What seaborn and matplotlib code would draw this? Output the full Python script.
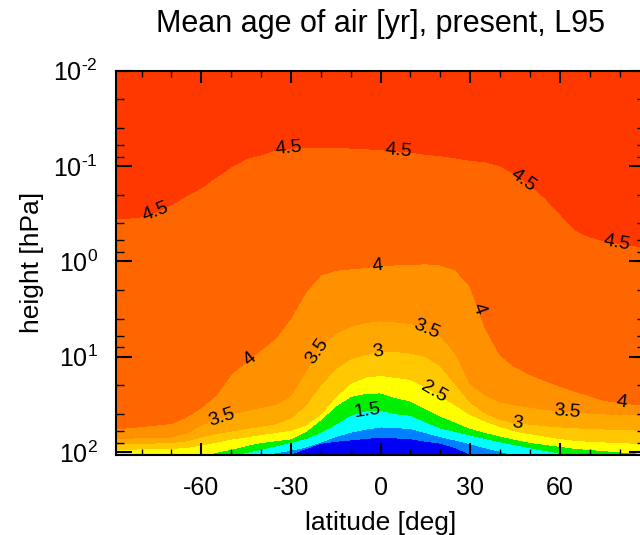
import numpy as np
import matplotlib
matplotlib.use("Agg")
import matplotlib.pyplot as plt
from matplotlib.ticker import (FixedLocator, MultipleLocator, LogLocator,
                               NullFormatter, FuncFormatter)
import seaborn as sns

# ---------------- data ----------------
TITLE = "Mean age of air [yr], present, L95"
XLABEL = "latitude [deg]"
YLABEL = "height [hPa]"

latitude = [-90, -85, -80, -75, -70, -65, -60, -55, -50, -45, -40, -35, -30,
            -25, -20, -15, -10, -5, 0, 5, 10, 15, 20, 25, 30, 35, 40, 45,
            50, 55, 60, 65, 70, 75, 80, 85, 90]

B = 115.0  # the contour lies below the plotted pressure range here

# pressure [hPa] of each age isoline at every latitude
p_age_4_5 = [0.362, 0.354, 0.341, 0.302, 0.255, 0.205, 0.169, 0.130, 0.102, 0.0839,
             0.0762, 0.0675, 0.0651, 0.0635, 0.0632, 0.0640, 0.0648, 0.0659, 0.0675,
             0.0692, 0.0717, 0.0752, 0.0781, 0.0819, 0.0870, 0.0902, 0.0994, 0.121,
             0.157, 0.215, 0.317, 0.467, 0.553, 0.609, 0.647, 0.688, 0.713]
p_age_4_0 = [56.7, 56.0, 54.0, 52.1, 50.2, 42.9, 34.1, 25.2, 15.2, 11.4,
             8.49, 6.36, 3.92, 2.09, 1.39, 1.24, 1.20, 1.16, 1.11,
             1.09, 1.08, 1.06, 1.09, 1.23, 1.83, 4.99, 9.58, 12.8,
             15.4, 17.8, 20.3, 22.9, 25.8, 28.8, 30.2, 31.7, 32.5]
p_age_3_5 = [72.2, 71.7, 70.9, 70.1, 69.6, 63.2, 52.1, 45.0, 40.4, 36.7,
             33.9, 31.7, 25.5, 14.1, 7.53, 5.70, 4.81, 4.37, 4.21,
             4.32, 4.48, 5.11, 6.06, 9.13, 19.3, 25.2, 29.9, 32.1,
             33.9, 35.8, 36.9, 38.0, 39.1, 39.9, 40.4, 40.9, 41.1]
p_age_3_0 = [83.0, 82.4, 81.4, 80.4, 79.5, 76.6, 69.6, 63.9, 60.2, 56.7,
             53.7, 50.5, 44.0, 32.1, 19.6, 13.4, 10.5, 9.49, 8.81,
             8.81, 9.18, 9.94, 12.4, 19.3, 29.9, 38.9, 45.6, 49.6,
             51.0, 53.0, 54.6, 55.7, 56.7, 57.4, 58.0, 58.8, 59.0]
p_age_2_5 = [94.2, 93.5, 92.8, 92.1, 91.7, 89.7, 84.5, 78.5, 73.0, 69.6,
             65.5, 62.4, 59.0, 52.1, 39.9, 26.3, 19.0, 16.4, 15.7,
             16.5, 17.3, 20.8, 25.8, 32.1, 40.4, 47.3, 54.0, 60.2,
             64.1, 68.1, 72.2, 75.4, 77.2, 78.5, 79.7, 80.8, 81.4]
p_age_2_0 = [B, B, B, B, B, B, 111.5, 100.7, 93.5, 85.5,
             79.5, 76.1, 72.7, 60.9, 45.6, 32.9, 26.1, 24.3, 24.0,
             26.9, 29.2, 35.1, 41.9, 48.6, 56.3, 62.3, 67.7, 73.8,
             79.3, 83.2, 87.2, 91.5, 94.1, 96.8, 99.8, 102.3, 104.0]
p_age_1_5 = [B, B, B, B, B, B, B, B, 110.2, 101.2,
             93.5, 86.1, 79.1, 72.2, 61.5, 50.9, 41.1, 37.1, 36.6,
             39.6, 41.2, 48.2, 56.0, 60.9, 66.3, 72.2, 78.0, 83.8,
             90.1, 96.5, 102.0, 108.0, B, B, B, B, B]
p_age_1_0 = [B, B, B, B, B, B, B, B, B, B,
             108.1, 101.7, 95.7, 88.6, 78.5, 68.8, 62.0, 57.5, 54.6,
             55.6, 56.5, 62.6, 68.6, 75.0, 82.0, 89.9, 98.3, 108.0,
             B, B, B, B, B, B, B, B, B]
p_age_0_5 = [B, B, B, B, B, B, B, B, B, B,
             B, B, 105.0, 91.9, 80.8, 77.2, 74.7, 72.0, 70.1,
             71.2, 72.4, 76.9, 80.8, 89.7, 105.7, B, B, B,
             B, B, B, B, B, B, B, B, B]

isoline_ages = [4.5, 4.0, 3.5, 3.0, 2.5, 2.0, 1.5, 1.0, 0.5]
P_TOP, AGE_TOP = 0.005, 5.5        # above the plotted top (0.01 hPa)
P_BOTTOM, AGE_BOTTOM = 130.0, 0.25  # below the plotted bottom

band_levels = [0.0, 0.5, 1.0, 1.5, 2.0, 2.5, 3.0, 3.5, 4.0, 4.5, 6.0]
band_colors = ["#0000F5", "#0080FF", "#00FFFF", "#00EE00", "#FFFF00",
               "#FFC800", "#FFA800", "#FF9000", "#FF6600", "#FF3800"]

# where the isoline labels sit (level, latitude)
label_level = [4.5, 4.5, 4.5, 4.5, 4.5, 4.0, 4.0, 4.0, 4.0,
               3.5, 3.5, 3.5, 3.5, 3.0, 3.0, 2.5, 1.5]
label_lat = [-75.4, -30.8, 6.0, 47.8, 79.0, -43.6, -1.0, 32.7, 80.7,
             -53.1, -21.3, 15.5, 62.3, -0.9, 45.6, 17.7, -4.3]

x_ticks = [-60, -30, 0, 30, 60]
x_limits = (-88.5, 88.5)
y_limits = (107.6, 0.01)

# ---------------- style ----------------
sns.set_theme(style="ticks")
plt.rcParams["font.family"] = ["Liberation Sans", "DejaVu Sans"]
plt.rcParams["mathtext.fontset"] = "custom"
plt.rcParams["mathtext.rm"] = "Liberation Sans"
plt.rcParams["mathtext.it"] = "Liberation Sans:italic"
plt.rcParams["mathtext.bf"] = "Liberation Sans:bold"
plt.rcParams["axes.unicode_minus"] = False
for key in ["text.color", "axes.labelcolor", "xtick.color", "ytick.color",
            "axes.edgecolor"]:
    plt.rcParams[key] = "black"

palette = sns.color_palette(band_colors)

# ---------------- grid built from the isolines ----------------
iso_rows = [p_age_4_5, p_age_4_0, p_age_3_5, p_age_3_0, p_age_2_5,
            p_age_2_0, p_age_1_5, p_age_1_0, p_age_0_5]
lat = np.asarray(latitude, dtype=float)
Y = np.vstack([np.full_like(lat, P_TOP)] + [np.asarray(r, float) for r in iso_rows]
              + [np.full_like(lat, P_BOTTOM)])
Z = np.repeat(np.array([AGE_TOP] + isoline_ages + [AGE_BOTTOM])[:, None], lat.size, axis=1)
X = np.tile(lat, (Y.shape[0], 1))

fig = plt.figure(figsize=(6.4, 5.35), dpi=100)
ax = fig.add_axes([0.1816, 0.1495, 0.8262, 0.7184])
ax.set_axisbelow(False)

# scales and limits first, so the label rotation follows the final screen geometry
ax.set_yscale("log")
ax.set_xlim(*x_limits)
ax.set_ylim(*y_limits)
ax.set_autoscale_on(False)

ax.contourf(X, Y, Z, levels=band_levels, colors=palette, zorder=0.5)
lines = ax.contour(X, Y, Z, levels=sorted(set(label_level)), colors="k",
                   linewidths=0, zorder=0.6)
ax.set_xlim(*x_limits)
ax.set_ylim(*y_limits)

iso_by_age = dict(zip(isoline_ages, iso_rows))
spots = []
for lev, la in zip(label_level, label_lat):
    pr = 10 ** np.interp(la, lat, np.log10(iso_by_age[lev]))
    spots.append((la, pr))
texts = ax.clabel(lines, levels=sorted(set(label_level)), manual=spots, inline=False,
                  fmt="%g", fontsize=14, colors="k")
for t in texts:
    t.set_color("black")


def decade_label(v, pos):
    e = int(round(np.log10(v)))
    return r"$\mathdefault{10^{\text{%d}}}$" % e


ax.xaxis.set_major_locator(FixedLocator(x_ticks))
ax.xaxis.set_minor_locator(MultipleLocator(10))
ax.yaxis.set_major_locator(LogLocator(base=10, numticks=20))
ax.yaxis.set_major_formatter(FuncFormatter(decade_label))
ax.yaxis.set_minor_locator(LogLocator(base=10, subs=(2, 4, 6, 8), numticks=20))
ax.yaxis.set_minor_formatter(NullFormatter())

ax.tick_params(which="both", direction="in", top=True, right=True,
               bottom=True, left=True, color="black")
ax.tick_params(axis="x", which="major", length=8.5, width=1.5, pad=15, labelsize=18)
ax.tick_params(axis="x", which="minor", length=4.5, width=1.0)
ax.tick_params(axis="y", which="major", length=11.5, width=1.5, pad=13, labelsize=18)
ax.tick_params(axis="y", which="minor", length=6.0, width=1.0)
for sp in ax.spines.values():
    sp.set_linewidth(1.5)
    sp.set_color("black")
    sp.set_zorder(3)

ax.set_xlabel(XLABEL, fontsize=19, labelpad=8)
ax.set_ylabel(YLABEL, fontsize=19, labelpad=7)
ax.set_title(TITLE, fontsize=22, pad=28)

fig.savefig("out.png", dpi=100)
